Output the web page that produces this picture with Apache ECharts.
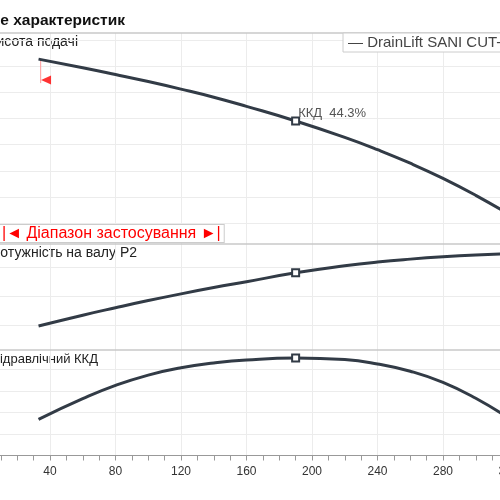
<!DOCTYPE html>
<html>
<head>
<meta charset="utf-8">
<script src="https://cdn.jsdelivr.net/npm/echarts@6/dist/echarts.min.js"></script>
<style>
  html, body { margin: 0; padding: 0; background: #fff; }
  #chart { width: 500px; height: 500px; }
</style>
</head>
<body>
<div id="chart"></div>
<script>
// flow axis (same for all three panels)
const flow = [33, 60, 80, 100, 120, 140, 160, 190, 220, 240, 260, 280, 300, 320];
// head, m
const head = [7.28, 6.95, 6.69, 6.42, 6.13, 5.82, 5.47, 4.91, 4.28, 3.81, 3.29, 2.71, 2.06, 1.34];
// shaft power P2 (relative units, one gridline per unit)
const power = [0.99, 1.36, 1.615, 1.86, 2.09, 2.305, 2.505, 2.81, 3.05, 3.18, 3.28, 3.36, 3.42, 3.46];
// hydraulic efficiency, %
const eff = [16.8, 26.4, 32.6, 37.4, 40.8, 43.0, 44.4, 45.3, 44.6, 42.6, 39.2, 34.0, 26.6, 17.4];
const dutyIndex = 7;
const dutyLabel = 'ККД  44.3%';
const pumpName = 'DrainLift SANI CUT-1';
// start of the operating range marker
const rangeStart = [[34.3, 7.28], [34.3, 6.36]];
const rangeArrow = [[37.6, 6.48]];

const lineColor = '#323b46';
const gridColor = '#ececec';
const font = 'Liberation Sans, Arial, sans-serif';

const grids = [
  { left: -15.5, right: -41.25, top: 33, bottom: 250.9, outerBoundsMode: 'none' },
  { left: -15.5, right: -41.25, top: 244, bottom: 145.1, outerBoundsMode: 'none' },
  { left: -15.5, right: -41.25, top: 349.5, bottom: 44.5, outerBoundsMode: 'none' },
];

const bottomAxis = (i, showLabels) => ({
  type: 'value', gridIndex: i, min: 0, max: 340, interval: 40,
  axisLine: { show: showLabels, lineStyle: { color: '#999' } },
  axisTick: { show: showLabels, length: 5, lineStyle: { color: '#999' } },
  minorTick: { show: showLabels, splitNumber: 4, length: 5, lineStyle: { color: '#999' } },
  axisLabel: { show: showLabels, color: '#333', fontSize: 12, fontFamily: font, margin: 10 },
  splitLine: { show: true, lineStyle: { color: gridColor } },
});
const topAxis = i => ({
  type: 'value', gridIndex: i, position: 'top', min: 0, max: 340,
  axisLine: { show: true, lineStyle: { color: '#c8c8c8', width: 1.5 } },
  axisTick: { show: false }, axisLabel: { show: false }, splitLine: { show: false },
});
const yAxis = (i, min, max, interval) => ({
  type: 'value', gridIndex: i, min, max, interval,
  axisLine: { show: false }, axisTick: { show: false }, axisLabel: { show: false },
  splitLine: { show: true, showMinLine: false, showMaxLine: false, lineStyle: { color: gridColor } },
});

const curve = (name, ys, idx, extra) => ({
  name, type: 'line', xAxisIndex: idx, yAxisIndex: idx, smooth: 0.5,
  symbol: 'none', lineStyle: { color: lineColor, width: 3 }, itemStyle: { color: lineColor },
  z: 3,
  data: flow.map((x, i) => {
    if (i !== dutyIndex) return [x, ys[i]];
    return {
      value: [x, ys[i]], symbol: 'rect', symbolSize: 7,
      itemStyle: { color: '#fff', borderColor: lineColor, borderWidth: 2 },
      label: extra,
    };
  }),
});

const chart = echarts.init(document.getElementById('chart'));
chart.setOption({
  animation: false,
  backgroundColor: '#fff',
  grid: grids,
  xAxis: [bottomAxis(0, false), bottomAxis(1, false), bottomAxis(2, true), topAxis(0), topAxis(1), topAxis(2)],
  yAxis: [yAxis(0, 0, 8.28, 1), yAxis(1, 0, 3.798, 1), yAxis(2, 0, 49.3, 10)],
  legend: {
    data: [pumpName], left: 343, top: 33, icon: 'none', itemWidth: 0, itemGap: 0,
    formatter: n => '— ' + n,
    backgroundColor: '#fff', borderColor: '#ccc', borderWidth: 1, padding: [2, 4, 2, 0],
    textStyle: { fontSize: 15, color: '#444', fontFamily: font },
  },
  graphic: [
    { type: 'text', style: { text: 'Поле характеристик', x: 125, y: 21, textAlign: 'right', textVerticalAlign: 'middle',
      font: 'bold 15.5px Liberation Sans, Arial, sans-serif', fill: '#111' } },
    { type: 'text', style: { text: 'Висота подачі', x: 78, y: 42, textAlign: 'right', textVerticalAlign: 'middle',
      font: '14px Liberation Sans, Arial, sans-serif', fill: '#222' } },
    { type: 'text', style: { text: 'Потужність на валу P2', x: 137, y: 253, textAlign: 'right', textVerticalAlign: 'middle',
      font: '14px Liberation Sans, Arial, sans-serif', fill: '#222' } },
    { type: 'text', style: { text: 'Гідравлічний ККД', x: 98, y: 359, textAlign: 'right', textVerticalAlign: 'middle',
      font: '13px Liberation Sans, Arial, sans-serif', fill: '#222' } },
    { type: 'text', z: 10, style: { text: '|◄ Діапазон застосування ►|', x: -1, y: 233.5, textVerticalAlign: 'middle',
      font: '16px Liberation Sans, Arial, sans-serif', fill: '#ff0000',
      backgroundColor: '#fff', borderColor: '#ccc', borderWidth: 1, padding: [1, 3, 0, 3] } },
  ],
  series: [
    curve(pumpName, head, 0, {
      show: true, formatter: dutyLabel, position: 'right', offset: [-7, -8], distance: 5,
      color: '#555', fontSize: 13, fontFamily: font,
    }),
    curve('P2', power, 1),
    curve('eta', eff, 2),
    {
      name: 'range', type: 'line', xAxisIndex: 0, yAxisIndex: 0, symbol: 'none',
      lineStyle: { color: '#ff9a9a', width: 1 }, data: rangeStart, z: 2,
    },
    {
      name: 'arrow', type: 'scatter', xAxisIndex: 0, yAxisIndex: 0,
      symbol: 'triangle', symbolRotate: 90, symbolSize: [9, 10],
      itemStyle: { color: '#ff0000' }, data: rangeArrow,
    },
  ],
});
</script>
</body>
</html>
